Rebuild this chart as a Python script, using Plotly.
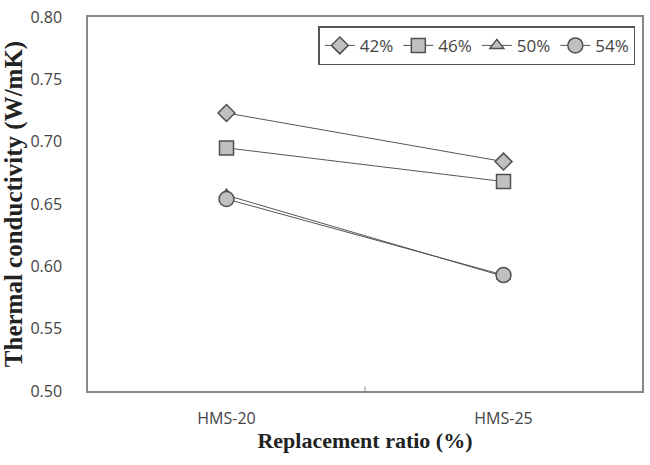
import plotly.graph_objects as go

categories = ["HMS-20", "HMS-25"]
series_names = ["42%", "46%", "50%", "54%"]
v42 = [0.723, 0.684]
v46 = [0.695, 0.668]
v50 = [0.657, 0.592]
v54 = [0.654, 0.593]
y_ticks = [0.50, 0.55, 0.60, 0.65, 0.70, 0.75, 0.80]

symbols = ["diamond", "square", "triangle-up", "circle"]
sizes = [13, 14, 12, 15]
values = [v42, v46, v50, v54]

fig = go.Figure()
for name, vals, sym, sz in zip(series_names, values, symbols, sizes):
    fig.add_trace(go.Scatter(
        x=[0, 1], y=vals, name=name, mode="lines+markers",
        line=dict(color="#555555", width=1),
        marker=dict(symbol=sym, size=sz, color="#c0c0c0",
                    line=dict(color="#505050", width=1.5)),
    ))

fig.update_layout(
    width=650, height=465,
    margin=dict(l=88, r=6, t=15, b=74),
    paper_bgcolor="white", plot_bgcolor="white",
    showlegend=True,
    legend=dict(orientation="h", x=0.988, xanchor="right", y=0.975, yanchor="top",
                bordercolor="#555555", borderwidth=1.5,
                font=dict(family="Open Sans", size=17, color="#444444"),
                itemwidth=30, tracegroupgap=0),
    font=dict(family="Open Sans", size=16, color="#444444"),
)
fig.update_xaxes(
    range=[-0.5, 1.5], tickvals=[0, 1], ticktext=categories,
    showgrid=False, zeroline=False, showline=True, linecolor="#888888", linewidth=1.5,
    mirror=True, ticks="", ticklabelstandoff=12,
    tickfont=dict(family="Open Sans", size=16, color="#444444"),
    title=dict(text="<b>Replacement ratio (%)</b>",
               font=dict(family="Liberation Serif", size=22, color="#222222"), standoff=5),
)
fig.update_yaxes(
    range=[0.50, 0.80], tickvals=y_ticks, ticktext=[f"{t:.2f}" for t in y_ticks],
    showgrid=False, zeroline=False, showline=True, linecolor="#888888", linewidth=1.5,
    mirror=True, ticks="", ticklabelstandoff=21,
    tickfont=dict(family="Open Sans", size=16, color="#444444"),
    title=dict(text="<b>Thermal conductivity (W/mK)</b>",
               font=dict(family="Liberation Serif", size=25, color="#222222"), standoff=5),
)
# middle category divider tick
fig.add_shape(type="line", xref="x", yref="paper", x0=0.5, x1=0.5, y0=0, y1=0.012,
              line=dict(color="#888888", width=1))

fig.write_html("out.html")
